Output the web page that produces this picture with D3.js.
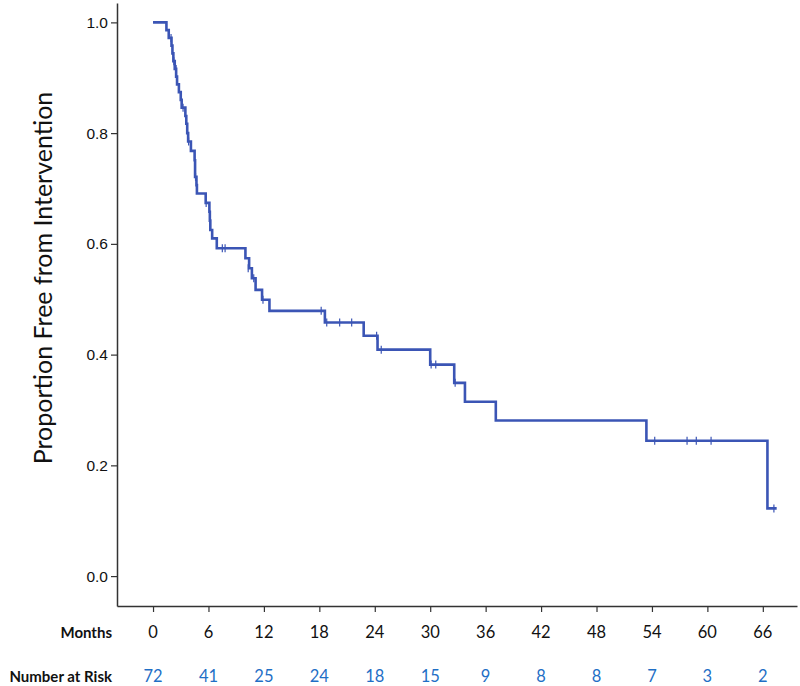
<!DOCTYPE html>
<html>
<head>
<meta charset="utf-8">
<script src="https://cdn.jsdelivr.net/npm/d3@7"></script>
<style>
  body { margin: 0; background: #fff; }
  svg { display: block; font-family: Lato, "Open Sans", sans-serif; }
</style>
</head>
<body>
<svg id="chart" width="800" height="686"></svg>
<script>
// Kaplan-Meier steps: time (months) at which the proportion drops, and value after the drop
const stepTimes = [1.45, 1.7, 2.0, 2.1, 2.2, 2.35, 2.5, 2.6, 2.8, 3.0, 3.1, 3.5, 3.6, 3.7, 3.8, 4.1, 4.5, 4.55, 4.7, 4.75,
  5.7, 6.1, 6.15, 6.2, 6.4, 6.9, 10.0, 10.4, 10.7, 11.1, 11.8, 12.6, 18.6, 22.8, 24.3, 30.0, 32.6, 33.76, 37.1, 53.4, 66.5];
const stepValues = [0.986, 0.972, 0.958, 0.944, 0.930, 0.916, 0.902, 0.888, 0.874, 0.860, 0.846, 0.831, 0.817, 0.800, 0.785, 0.768, 0.751, 0.721, 0.706, 0.691,
  0.674, 0.658, 0.642, 0.625, 0.610, 0.592, 0.574, 0.556, 0.538, 0.517, 0.499, 0.479, 0.458, 0.434, 0.409, 0.382, 0.349, 0.315, 0.281, 0.2445, 0.1223];
const lastTime = 67.5;
// Censored observations
const censorTimes = [1.95, 2.25, 2.5, 3.25, 3.85, 4.6, 5.75, 7.5, 7.8, 10.3, 10.9, 11.9, 18.2, 18.8, 20.2, 21.5, 24.2, 24.7, 30.1, 30.6, 32.7, 54.3, 57.8, 58.8, 60.4, 67.2];
const censorValues = [0.972, 0.930, 0.916, 0.846, 0.785, 0.721, 0.674, 0.592, 0.592, 0.556, 0.538, 0.499, 0.479, 0.458, 0.458, 0.458, 0.434, 0.409, 0.382, 0.382, 0.349, 0.2445, 0.2445, 0.2445, 0.2445, 0.1223];
// Axis ticks and risk table
const monthTicks = [0, 6, 12, 18, 24, 30, 36, 42, 48, 54, 60, 66];
const atRisk = [72, 41, 25, 24, 18, 15, 9, 8, 8, 7, 3, 2];
const yTicks = [0.0, 0.2, 0.4, 0.6, 0.8, 1.0];

const svg = d3.select("#chart");
const x = d3.scaleLinear().domain([-3.9, 69.7]).range([117, 797]);
const y = d3.scaleLinear().domain([-0.054, 1.035]).range([606, 3]);

const lineColor = "#3b55b5";
const riskColor = "#1f6fc6";

// Y axis
const yAxis = svg.append("g").attr("transform", "translate(117,0)")
  .call(d3.axisLeft(y).tickValues(yTicks).tickFormat(d3.format(".1f")).tickSize(6).tickSizeOuter(0));
yAxis.select(".domain").attr("stroke", "#333").attr("stroke-width", 1.5);
yAxis.selectAll(".tick line").attr("stroke", "#333").attr("stroke-width", 1.2);
yAxis.selectAll(".tick text").attr("font-size", 15.5).attr("fill", "#111").attr("x", -9);

// X axis
const xAxis = svg.append("g").attr("transform", "translate(0,606)")
  .call(d3.axisBottom(x).tickValues(monthTicks).tickFormat("").tickSize(6).tickSizeOuter(0));
xAxis.select(".domain").attr("stroke", "#333").attr("stroke-width", 1.5);
xAxis.selectAll(".tick line").attr("stroke", "#333").attr("stroke-width", 1.2);

// Month labels
svg.append("g").selectAll("text").data(monthTicks).join("text")
  .attr("x", d => x(d)).attr("y", 638)
  .attr("text-anchor", "middle").attr("font-size", 16.5).attr("fill", "#111")
  .text(d => d);
svg.append("text").attr("x", 112).attr("y", 638).attr("text-anchor", "end")
  .attr("font-size", 15).attr("font-weight", "bold").attr("fill", "#111").text("Months");

// Number at risk
svg.append("g").selectAll("text").data(atRisk).join("text")
  .attr("x", (d, i) => x(monthTicks[i])).attr("y", 682)
  .attr("text-anchor", "middle").attr("font-size", 16.5).attr("fill", riskColor)
  .text(d => d);
svg.append("text").attr("x", 112).attr("y", 682).attr("text-anchor", "end")
  .attr("font-size", 15).attr("font-weight", "bold").attr("fill", "#111").text("Number at Risk");

// Y title
svg.append("text").attr("transform", "translate(52,278) rotate(-90)")
  .attr("text-anchor", "middle").attr("font-size", 25).attr("fill", "#111")
  .text("Proportion Free from Intervention");

// KM curve
const pts = [[0, 1.0]];
stepTimes.forEach((t, i) => pts.push([t, stepValues[i]]));
pts.push([lastTime, stepValues[stepValues.length - 1]]);
const line = d3.line().x(d => x(d[0])).y(d => y(d[1])).curve(d3.curveStepAfter);
svg.append("path").datum(pts).attr("d", line)
  .attr("fill", "none").attr("stroke", lineColor).attr("stroke-width", 2.6).attr("stroke-linejoin", "miter");

// Censor marks
svg.append("g").selectAll("line").data(censorTimes).join("line")
  .attr("x1", d => x(d)).attr("x2", d => x(d))
  .attr("y1", (d, i) => y(censorValues[i]) - 4).attr("y2", (d, i) => y(censorValues[i]) + 4)
  .attr("stroke", lineColor).attr("stroke-width", 1.2);
</script>
</body>
</html>
